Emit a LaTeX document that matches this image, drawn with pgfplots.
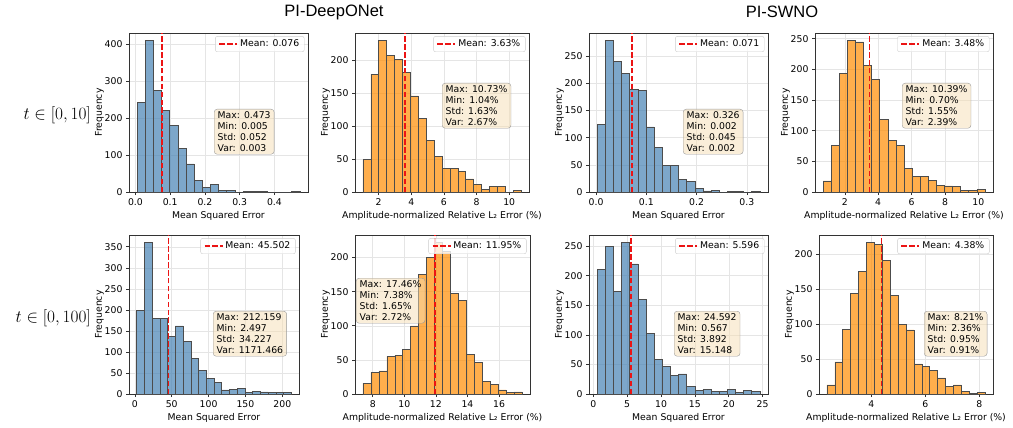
\documentclass[border=0pt]{standalone}
\usepackage[no-math]{fontspec}
\setmainfont{DejaVu Sans}
\newfontfamily\titlefont{Liberation Sans}
\usepackage{pgfplots}
\pgfplotsset{compat=1.18}
\definecolor{steelblue}{RGB}{70,130,180}
\definecolor{darkorange}{RGB}{255,140,0}
\definecolor{wheat}{RGB}{245,222,179}
\definecolor{mred}{RGB}{235,20,20}
\newcommand\fs{\fontsize{9.3}{11}\selectfont}
\pgfplotsset{
  hist/.style={
    scale only axis, height=159pt, anchor=south west, ymin=0,
    grid=major, grid style={black!10, line width=0.5pt},
    axis line style={black!80, line width=0.6pt},
    tick style={black!80, line width=0.6pt},
    tick align=outside, major tick length=3pt, tick pos=left,
    tick label style={font=\fs}, label style={font=\fs},
    xlabel style={yshift=1pt}, ylabel style={yshift=-6pt},
    ylabel=Frequency, scaled ticks=false,
    /pgf/number format/assume math mode=true,
    legend cell align=left,
    legend style={at={(0.98,0.98)}, anchor=north east, font=\fs,
      draw=black!20, rounded corners=2pt, fill=white, fill opacity=0.8,
      text opacity=1, inner xsep=3pt, inner ysep=1.5pt},
    legend image code/.code={\draw[##1] (0pt,0pt) -- (18pt,0pt);},
  },
  bl/.style={ybar interval, fill=steelblue, fill opacity=0.7, draw=black!70, line width=0.5pt, forget plot},
  og/.style={ybar interval, fill=darkorange, fill opacity=0.7, draw=black!70, line width=0.5pt, forget plot},
  mn/.style={draw=mred, line width=1.8pt, dash pattern=on 5.5pt off 2.4pt},
  mse/.style={xlabel={Mean Squared Error}},
  ltwo/.style={xlabel={Amplitude-normalized Relative L₂ Error (\%)}},
}
\tikzset{stat/.style={draw=black!40, fill=wheat, fill opacity=0.5, text opacity=1,
  rounded corners=3pt, align=left, font=\fontsize{9.3}{11}\selectfont,
  inner xsep=3.5pt, inner ysep=2.5pt, anchor=north west}}
\begin{document}
\begin{tikzpicture}
\useasboundingbox (0,0) rectangle (1013pt,-428pt);
\node[font=\titlefont\fontsize{16.5}{18}\selectfont] at (334pt,-12pt) {PI-DeepONet};
\node[font=\titlefont\fontsize{16.5}{18}\selectfont] at (782pt,-12pt) {PI-SWNO};
\node[anchor=east, inner sep=0pt, font=\fontsize{19}{22}\selectfont] at (91pt,-115pt) {$t\in[0,10]$};
\node[anchor=east, inner sep=0pt, font=\fontsize{19}{22}\selectfont] at (91pt,-318pt) {$t\in[0,100]$};

% P1
\begin{axis}[hist, mse, at={(129pt,-192pt)}, width=179pt, xmin=-0.0184, xmax=0.4964, ymax=430.5,
  xtick={0,0.1,0.2,0.3,0.4}, ytick={0,100,200,300,400},
  xticklabel style={/pgf/number format/.cd, fixed, fixed zerofill, precision=1}]
\addplot[bl] coordinates {(0.0050,242) (0.0284,410) (0.0518,275) (0.0752,220) (0.0986,180) (0.1220,118) (0.1454,76) (0.1688,32) (0.1922,12) (0.2156,20) (0.2390,5) (0.2624,5) (0.2858,0) (0.3092,1) (0.3326,1) (0.3560,2) (0.3794,0) (0.4028,0) (0.4262,0) (0.4496,1) (0.4730,1)};
\addplot[mn] coordinates {(0.076,0) (0.076,430.5)};
\addlegendentry{Mean: 0.076}
\end{axis}

% P2
\begin{axis}[hist, ltwo, at={(355pt,-192pt)}, width=174pt, xmin=0.5555, xmax=11.2145, ymax=241.5,
  xtick={2,4,6,8,10}, ytick={0,50,100,150,200}]
\addplot[og] coordinates {(1.0400,49) (1.5245,179) (2.0090,230) (2.4935,208) (2.9780,201) (3.4625,182) (3.9470,146) (4.4315,112) (4.9160,78) (5.4005,54) (5.8850,36) (6.3695,36) (6.8540,31) (7.3385,20) (7.8230,12) (8.3075,4) (8.7920,9) (9.2765,8) (9.7610,0) (10.2455,2) (10.7300,2)};
\addplot[mn] coordinates {(3.63,0) (3.63,241.5)};
\addlegendentry{Mean: 3.63\%}
\end{axis}

% P3
\begin{axis}[hist, mse, at={(589pt,-192pt)}, width=179pt, xmin=-0.0142, xmax=0.3422, ymax=292.95,
  xtick={0,0.1,0.2,0.3}, ytick={0,50,100,150,200,250},
  xticklabel style={/pgf/number format/.cd, fixed, fixed zerofill, precision=1}]
\addplot[bl] coordinates {(0.0020,125) (0.0182,279) (0.0344,241) (0.0506,218) (0.0668,189) (0.0830,187) (0.0992,120) (0.1154,82) (0.1316,49) (0.1478,49) (0.1640,23) (0.1802,20) (0.1964,6) (0.2126,2) (0.2288,3) (0.2450,0) (0.2612,1) (0.2774,1) (0.2936,0) (0.3098,1) (0.3260,1)};
\addplot[mn] coordinates {(0.071,0) (0.071,292.95)};
\addlegendentry{Mean: 0.071}
\end{axis}

% P4
\begin{axis}[hist, ltwo, at={(815pt,-192pt)}, width=178pt, xmin=0.2155, xmax=10.8745, ymax=259.35,
  xtick={2,4,6,8,10}, ytick={0,50,100,150,200,250}]
\addplot[og] coordinates {(0.7000,18) (1.1845,76) (1.6690,194) (2.1535,247) (2.6380,245) (3.1225,206) (3.6070,184) (4.0915,119) (4.5760,84) (5.0605,76) (5.5450,39) (6.0295,26) (6.5140,25) (6.9985,19) (7.4830,11) (7.9675,10) (8.4520,9) (8.9365,3) (9.4210,3) (9.9055,4) (10.3900,4)};
\addplot[mn] coordinates {(3.48,0) (3.48,259.35)};
\addlegendentry{Mean: 3.48\%}
\end{axis}

% P5
\begin{axis}[hist, mse, at={(129pt,-394pt)}, width=170pt, xmin=-7.986, xmax=222.642, ymax=378,
  xtick={0,50,100,150,200}, ytick={0,50,100,150,200,250,300,350}]
\addplot[bl] coordinates {(2.497,198) (12.980,360) (23.463,180) (33.946,179) (44.429,137) (54.913,162) (65.396,125) (75.879,84) (86.362,57) (96.845,37) (107.328,27) (117.811,10) (128.294,11) (138.777,13) (149.260,4) (159.744,6) (170.227,5) (180.710,3) (191.193,3) (201.676,3) (212.159,3)};
\addplot[mn] coordinates {(45.502,0) (45.502,378)};
\addlegendentry{Mean: 45.502}
\end{axis}

% P6
\begin{axis}[hist, ltwo, at={(355pt,-394pt)}, width=175pt, xmin=6.876, xmax=17.964, ymax=233.1,
  xtick={8,10,12,14,16}, ytick={0,50,100,150,200}]
\addplot[og] coordinates {(7.380,16) (7.884,32) (8.388,34) (8.892,55) (9.396,57) (9.900,65) (10.404,100) (10.908,175) (11.412,200) (11.916,222) (12.420,209) (12.924,148) (13.428,137) (13.932,58) (14.436,46) (14.940,19) (15.444,14) (15.948,6) (16.452,2) (16.956,3) (17.460,3)};
\addplot[mn] coordinates {(11.95,0) (11.95,233.1)};
\addlegendentry{Mean: 11.95\%}
\end{axis}

% P7
\begin{axis}[hist, mse, at={(589pt,-394pt)}, width=179pt, xmin=-0.634, xmax=25.793, ymax=268.8,
  xtick={0,5,10,15,20,25}, ytick={0,50,100,150,200,250}]
\addplot[bl] coordinates {(0.567,211) (1.768,250) (2.970,174) (4.171,256) (5.372,220) (6.573,160) (7.775,102) (8.976,58) (10.177,47) (11.378,32) (12.580,34) (13.781,13) (14.982,6) (16.183,8) (17.385,5) (18.586,5) (19.787,8) (20.988,3) (22.189,6) (23.391,4) (24.592,4)};
\addplot[mn] coordinates {(5.596,0) (5.596,268.8)};
\addlegendentry{Mean: 5.596}
\end{axis}

% P8
\begin{axis}[hist, ltwo, at={(819pt,-394pt)}, width=174pt, xmin=2.0675, xmax=8.5025, ymax=227.85,
  xtick={4,6,8}, ytick={0,50,100,150,200}]
\addplot[og] coordinates {(2.3600,13) (2.6525,46) (2.9450,93) (3.2375,144) (3.5300,176) (3.8225,217) (4.1150,214) (4.4075,192) (4.7000,141) (4.9925,100) (5.2850,92) (5.5775,43) (5.8700,40) (6.1625,34) (6.4550,23) (6.7475,11) (7.0400,13) (7.3325,4) (7.6250,1) (7.9175,2) (8.2100,2)};
\addplot[mn] coordinates {(4.38,0) (4.38,227.85)};
\addlegendentry{Mean: 4.38\%}
\end{axis}

\node[stat] at (214pt,-109pt) {Max: 0.473\\Min: 0.005\\Std: 0.052\\Var: 0.003};
\node[stat] at (442pt,-83pt) {Max: 10.73\%\\Min: 1.04\%\\Std: 1.63\%\\Var: 2.67\%};
\node[stat] at (683pt,-109pt) {Max: 0.326\\Min: 0.002\\Std: 0.045\\Var: 0.002};
\node[stat] at (902pt,-83pt) {Max: 10.39\%\\Min: 0.70\%\\Std: 1.55\%\\Var: 2.39\%};
\node[stat] at (213pt,-311pt) {Max: 212.159\\Min: 2.497\\Std: 34.227\\Var: 1171.466};
\node[stat] at (356pt,-278pt) {Max: 17.46\%\\Min: 7.38\%\\Std: 1.65\%\\Var: 2.72\%};
\node[stat] at (674pt,-311pt) {Max: 24.592\\Min: 0.567\\Std: 3.892\\Var: 15.148};
\node[stat] at (924pt,-311pt) {Max: 8.21\%\\Min: 2.36\%\\Std: 0.95\%\\Var: 0.91\%};
\end{tikzpicture}
\end{document}
